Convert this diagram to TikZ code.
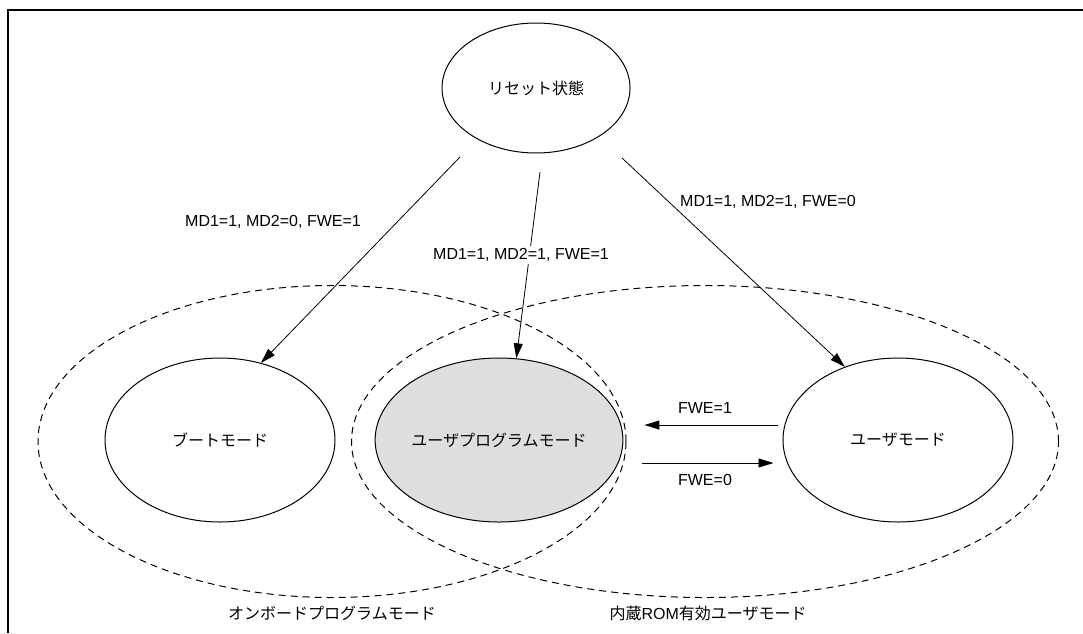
\documentclass[tikz,border=0pt]{standalone}
\usepackage{fontspec}
\setmainfont{Liberation Sans}
\newfontfamily\jp{Noto Sans CJK JP}
\usetikzlibrary{shapes.geometric,arrows.meta}
\begin{document}
\begin{tikzpicture}[x=1pt,y=-1pt,
  every node/.style={font=\fontsize{16}{19}\selectfont},
  state/.style={draw, ellipse, line width=1pt, inner sep=0pt, minimum width=230pt, minimum height=164pt},
  region/.style={draw, ellipse, dash pattern=on 7pt off 5pt, line width=1pt, inner sep=0pt},
  arr/.style={-{Triangle[length=15pt,width=9pt]}, line width=0.8pt},
  lbl/.style={inner sep=2pt}
]
\useasboundingbox (0,0) rectangle (1083,633);
\draw[line width=1.5pt] (1083,10) -- (8,10) -- (8,633);

% regions
\node[region, minimum width=588pt, minimum height=312pt] (onboard) at (332,441.5) {};
\node[region, minimum width=707pt, minimum height=312pt] (romuser) at (705,441.5) {};
\node[lbl] (onboardlbl) at (332,613) {\jp オンボードプログラムモード};
\node[lbl] (romuserlbl) at (708,613) {{\jp 内蔵}ROM{\jp 有効ユーザモード}};

% states
\node[state, minimum width=188pt, minimum height=130pt] (reset) at (536,88) {\jp リセット状態};
\node[state] (boot) at (220,440) {\jp ブートモード};
\node[state, fill=black!13] (prog) at (499,440) {\jp ユーザプログラムモード};
\node[state] (user) at (898,440) {\jp ユーザモード};

% arrow start points
\coordinate (s1) at (460,157);
\coordinate (s2) at (540,172);
\coordinate (s3) at (622,158);

\draw[arr] (s1) -- (boot.62);
\draw[arr] (s2) -- (prog.78);
\draw[arr] (s3) -- (user.126);

\node[lbl] (l1) at (273,222) {MD1=1, MD2=0, FWE=1};
\node[lbl, fill=white] (l2) at (521,255) {MD1=1, MD2=1, FWE=1};
\node[lbl] (l3) at (768,202) {MD1=1, MD2=1, FWE=0};

\draw[arr] ([shift={(-5pt,15pt)}]user.west) -- ([shift={(21pt,15pt)}]prog.east);
\draw[arr] ([shift={(19pt,-23pt)}]prog.east) -- ([shift={(-9pt,-23pt)}]user.west);
\node[lbl] (f1) at (705,408) {FWE=1};
\node[lbl] (f0) at (705,480) {FWE=0};
\end{tikzpicture}
\end{document}
